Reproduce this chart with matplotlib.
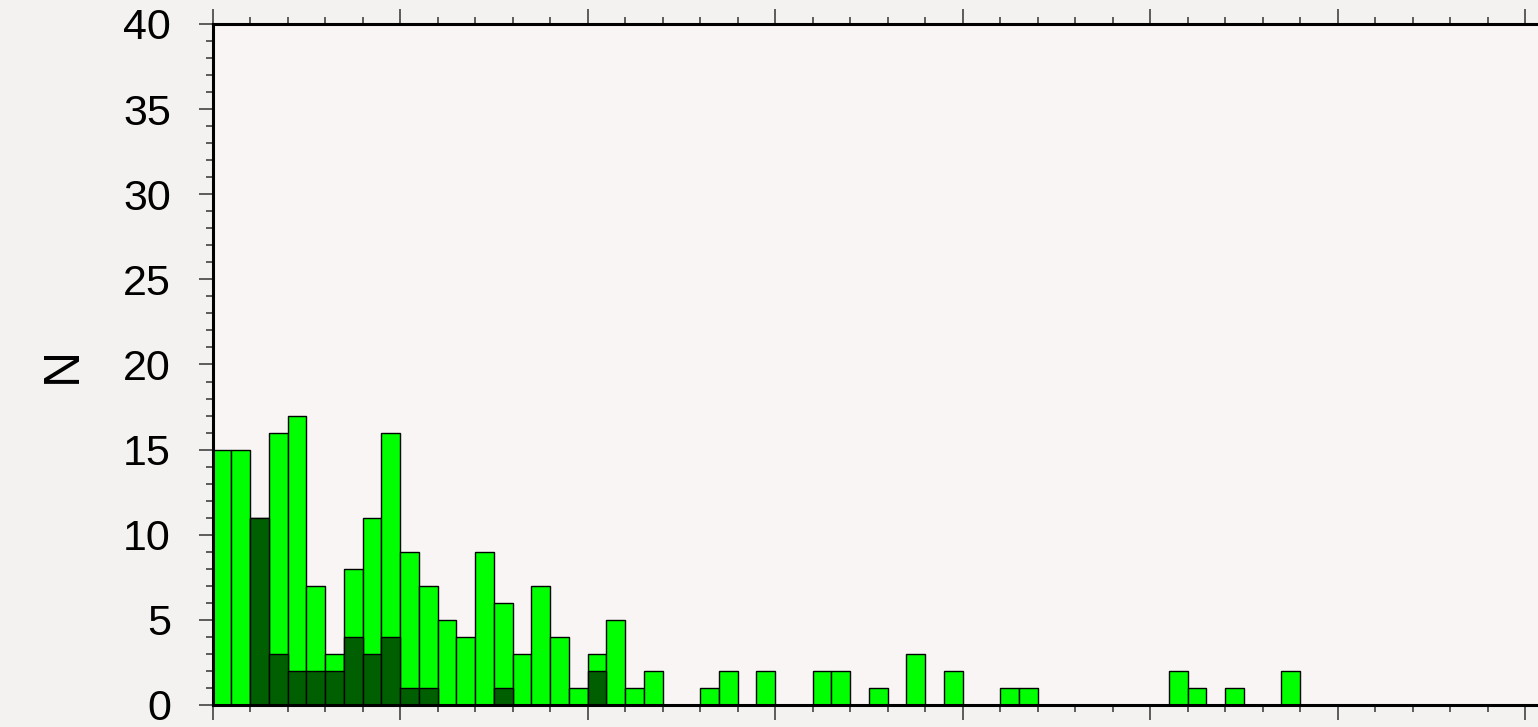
import matplotlib
matplotlib.use("Agg")
import matplotlib.pyplot as plt
import numpy as np
from matplotlib.ticker import MultipleLocator

# Histogram counts per bin (bin index = position along x)
total_counts = [15, 15, 11, 16, 17, 7, 3, 8, 11, 16,
                9, 7, 5, 4, 9, 6, 3, 7, 4, 1,
                3, 5, 1, 2, 0, 0, 1, 2, 0, 2,
                0, 0, 2, 2, 0, 1, 0, 3, 0, 2,
                0, 0, 1, 1, 0, 0, 0, 0, 0, 0,
                0, 2, 1, 0, 1, 0, 0, 2]
subset_counts = [0, 0, 11, 3, 2, 2, 2, 4, 3, 4,
                 1, 1, 0, 0, 0, 1, 0, 0, 0, 0,
                 2]
y_ticks = [0, 5, 10, 15, 20, 25, 30, 35, 40]
y_label = "N"

plt.rcParams['font.family'] = ['Liberation Sans', 'DejaVu Sans']

W, H, DPI = 1538, 727, 100
fig = plt.figure(figsize=(W / DPI, H / DPI), dpi=DPI)
bg = '#f4f2f1'
fig.patch.set_facecolor(bg)

left_px, right_px, top_px, bottom_px = 212.5, 1712.5, 24, 705
ax = fig.add_axes([left_px / W, (H - bottom_px) / H,
                   (right_px - left_px) / W, (bottom_px - top_px) / H])
ax.set_facecolor('#f8f5f4')

n_bins = 80
x_total = np.arange(len(total_counts))
x_sub = np.arange(len(subset_counts))
ax.bar(x_total, total_counts, width=1.0, align='edge', color='#00ff00',
       edgecolor='black', linewidth=1.0, zorder=2)
ax.bar(x_sub, subset_counts, width=1.0, align='edge', color='#005f00',
       edgecolor='black', linewidth=1.0, zorder=3)

ax.set_xlim(0, n_bins)
ax.set_ylim(0, 40)
ax.set_yticks(y_ticks)
ax.yaxis.set_minor_locator(MultipleLocator(1))
ax.xaxis.set_major_locator(MultipleLocator(10))
ax.xaxis.set_minor_locator(MultipleLocator(2))

for side in ['left', 'top', 'bottom']:
    ax.spines[side].set_linewidth(2.2)
    ax.spines[side].set_zorder(5)
ax.spines['right'].set_visible(False)

ax.tick_params(axis='y', which='both', direction='out', left=True, right=False,
               labelsize=31, pad=20, width=1.1, color='#333333')
ax.tick_params(axis='y', which='major', length=10)
ax.tick_params(axis='y', which='minor', length=5)
ax.tick_params(axis='x', which='both', direction='out', top=True, bottom=True,
               labelbottom=False, width=1.1, color='#333333')
ax.tick_params(axis='x', which='major', length=10.5)
ax.tick_params(axis='x', which='minor', length=5)

ax.set_ylabel(y_label, fontsize=36, labelpad=27)

fig.savefig("out.png", dpi=DPI, facecolor=fig.get_facecolor())
